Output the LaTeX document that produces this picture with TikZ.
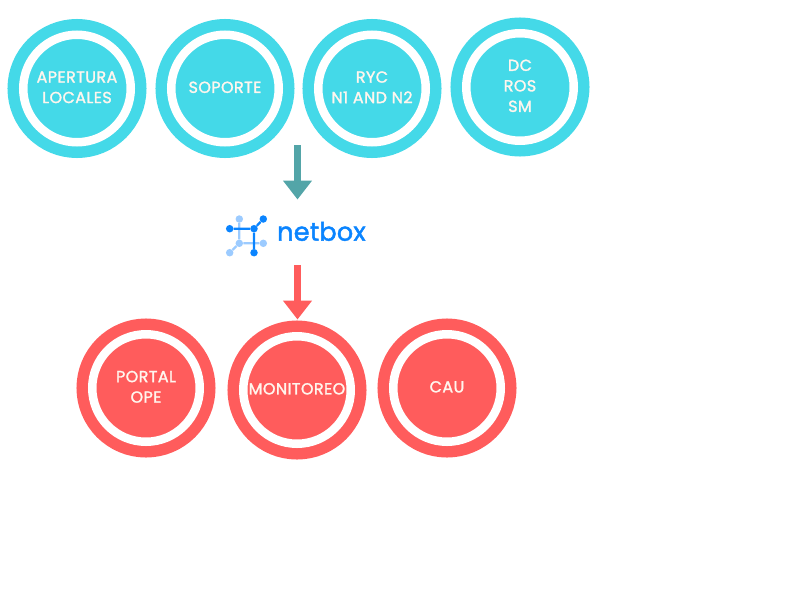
\documentclass[tikz,border=0pt]{standalone}
\usepackage{fontspec}
\setmainfont{Poppins}
\newfontfamily\lab[FakeBold=1.6,LetterSpace=2.5]{Poppins}
\newfontfamily\nbf[FakeBold=1.8,LetterSpace=1]{Poppins}
\usetikzlibrary{arrows.meta}
\definecolor{cy}{HTML}{44D9E8}
\definecolor{rd}{HTML}{FF5C5C}
\definecolor{tl}{HTML}{53A5A8}
\definecolor{nb}{HTML}{0A84FF}
\definecolor{nl}{HTML}{9CCBFF}
\definecolor{tx}{HTML}{FFF6EE}
\tikzset{
  ringbase/.style={circle,minimum size=107.5pt,inner sep=0pt,outer sep=0pt,line width=11.5pt,double=white,double distance=8.5pt,text=tx,align=center,font=\lab\fontsize{16}{20.5}\selectfont},
  cyanring/.style={ringbase,draw=cy,fill=cy},
  redring/.style={ringbase,draw=rd,fill=rd},
  fatarrow/.style={line width=7.6pt,-{Triangle[width=28pt,length=19pt]}},
  darkline/.style={draw=nb,line width=2.2pt},
  lightline/.style={draw=nl,line width=2.2pt},
  darkdot/.style={circle,fill=nb,minimum size=7.5pt,inner sep=0pt},
  lightdot/.style={circle,fill=nl,minimum size=7.5pt,inner sep=0pt},
}
\begin{document}
\begin{tikzpicture}[x=1pt,y=-1pt]
\useasboundingbox (0,0) rectangle (800,600);
\node[cyanring] (a) at (77,88.5) {APERTURA\\LOCALES\\[-18pt]};
\node[cyanring] (b) at (225,88.5) {SOPORTE\\[-18pt]};
\node[cyanring] (c) at (372,88.5) {RYC\\N1 AND N2\\[-18pt]};
\node[cyanring] (d) at (520,87) {DC\\ROS\\SM\\[-18pt]};
\node[redring] (e) at (146,388) {PORTAL\\OPE\\[-18pt]};
\node[redring] (f) at (297,390) {MONITOREO\\[-18pt]};
\node[redring] (g) at (447,388) {CAU\\[-18pt]};
% arrows
\coordinate (t1) at (297.5,145);
\coordinate (t2) at (297.5,199.5);
\coordinate (r1) at (297.5,265);
\coordinate (r2) at (297.5,319.5);
\draw[fatarrow,draw=tl,fill=tl] (t1) -- (t2);
\draw[fatarrow,draw=rd,fill=rd] (r1) -- (r2);
% logo
\node[lightdot] (l1) at (239.3,219) {};
\node[lightdot] (l2) at (239.3,243.3) {};
\node[lightdot] (l3) at (263.3,243.3) {};
\node[lightdot] (l4) at (229.7,252.7) {};
\draw[lightline] (l1) -- (l2) (l2) -- (l3) (l2) -- (l4);
\node[darkdot] (n1) at (229.7,228.7) {};
\node[darkdot] (n2) at (254,228.7) {};
\node[darkdot] (n3) at (263.3,219) {};
\node[darkdot] (n4) at (254,252.7) {};
\draw[darkline] (n1) -- (n2) (n2) -- (n3) (n2) -- (n4);
\node[anchor=base west,inner sep=0pt,text=nb,font=\nbf\fontsize{25.5}{25.5}\selectfont] (nbx) at (277,240.7) {netbox};
\end{tikzpicture}
\end{document}
